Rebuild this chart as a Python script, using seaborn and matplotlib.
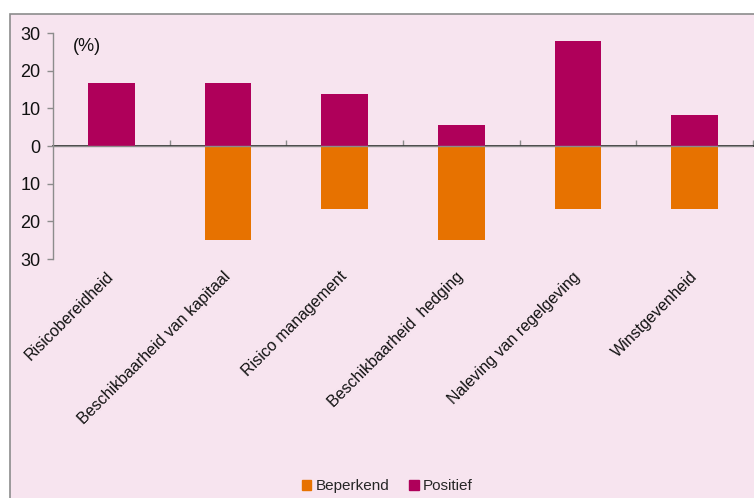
import matplotlib
matplotlib.use("Agg")
import matplotlib.pyplot as plt
import seaborn as sns
import pandas as pd
from matplotlib.patches import Rectangle
from matplotlib.ticker import FuncFormatter

sns.set_theme(style="white")
plt.rcParams.update({
    'font.family': ['Liberation Sans', 'DejaVu Sans'],
})

CATEGORIES = [
    "Risicobereidheid",
    "Beschikbaarheid van kapitaal",
    "Risico management",
    "Beschikbaarheid  hedging",
    "Naleving van regelgeving",
    "Winstgevenheid",
]
POSITIEF = [16.7, 16.7, 13.9, 5.6, 27.8, 8.3]
BEPERKEND = [0.0, 25.0, 16.7, 25.0, 16.7, 16.7]
Y_TICKS = [-30, -20, -10, 0, 10, 20, 30]

COLORS = {"Beperkend": "#E77200", "Positief": "#AF005A"}
PINK = "#F7E4EF"
GREY = "#8C8C8C"

df = pd.DataFrame({
    "categorie": CATEGORIES * 2,
    "waarde": [-v for v in BEPERKEND] + POSITIEF,
    "serie": ["Beperkend"] * len(CATEGORIES) + ["Positief"] * len(CATEGORIES),
})

fig = plt.figure(figsize=(7.54, 4.98), dpi=100, facecolor="white")
fig.patches.append(Rectangle((10 / 754, -0.01), 1.0, 1 - 14 / 498 + 0.01,
                             transform=fig.transFigure, facecolor=PINK,
                             edgecolor=GREY, linewidth=1.2, zorder=-5))
ax = fig.add_axes([53 / 754, 1 - 259 / 498, 700 / 754, 226 / 498])
ax.set_zorder(2)
ax.set_facecolor("none")

sns.barplot(data=df, x="categorie", y="waarde", hue="serie",
            hue_order=["Beperkend", "Positief"], palette=COLORS,
            dodge=False, width=0.4, ax=ax, legend=False,
            edgecolor="none", saturation=1)

ax.set_ylim(-30, 30)
ax.set_xlim(-0.5, len(CATEGORIES) - 0.5)
ax.set_yticks(Y_TICKS)
ax.yaxis.set_major_formatter(FuncFormatter(lambda v, p: f"{abs(int(v))}"))
ax.tick_params(axis="y", direction="out", length=4, color=GREY, width=1,
               labelsize=13, pad=5, left=True, labelcolor="#111111")
ax.set_xlabel("")
ax.set_ylabel("")

for side in ["top", "right", "bottom"]:
    ax.spines[side].set_visible(False)
ax.spines["left"].set_color(GREY)
ax.spines["left"].set_linewidth(1)

ax.axhline(0, color=GREY, linewidth=1, zorder=3)

# category labels under the axes, rotated
ax.set_xticks(range(len(CATEGORIES)))
ax.set_xticklabels(CATEGORIES, rotation=45, ha="right", va="center",
                   rotation_mode="anchor", fontsize=11.5, color="#111111")
ax.tick_params(axis="x", length=0, pad=11)

# boundary ticks on the zero line
sec = ax.secondary_xaxis(0.5)
sec.set_xticks([i + 0.5 for i in range(len(CATEGORIES))])
sec.set_xticklabels([])
sec.tick_params(axis="x", direction="out", length=4, color=GREY, width=1)
sec.spines["bottom"].set_visible(False)

ax.text(0.028, 0.94, "(%)", transform=ax.transAxes, fontsize=13,
        va="center", color="#111111")

handles = [Rectangle((0, 0), 1, 1, color=COLORS[s]) for s in ["Beperkend", "Positief"]]
leg = fig.legend(handles, ["Beperkend", "Positief"], loc="center",
                 bbox_to_anchor=(0.514, 0.024), ncol=2, frameon=False,
                 fontsize=11, handlelength=0.6, handleheight=0.6,
                 handletextpad=0.3, columnspacing=1.3)
leg.set_zorder(3)

fig.savefig("out.png", dpi=100, facecolor="white")
